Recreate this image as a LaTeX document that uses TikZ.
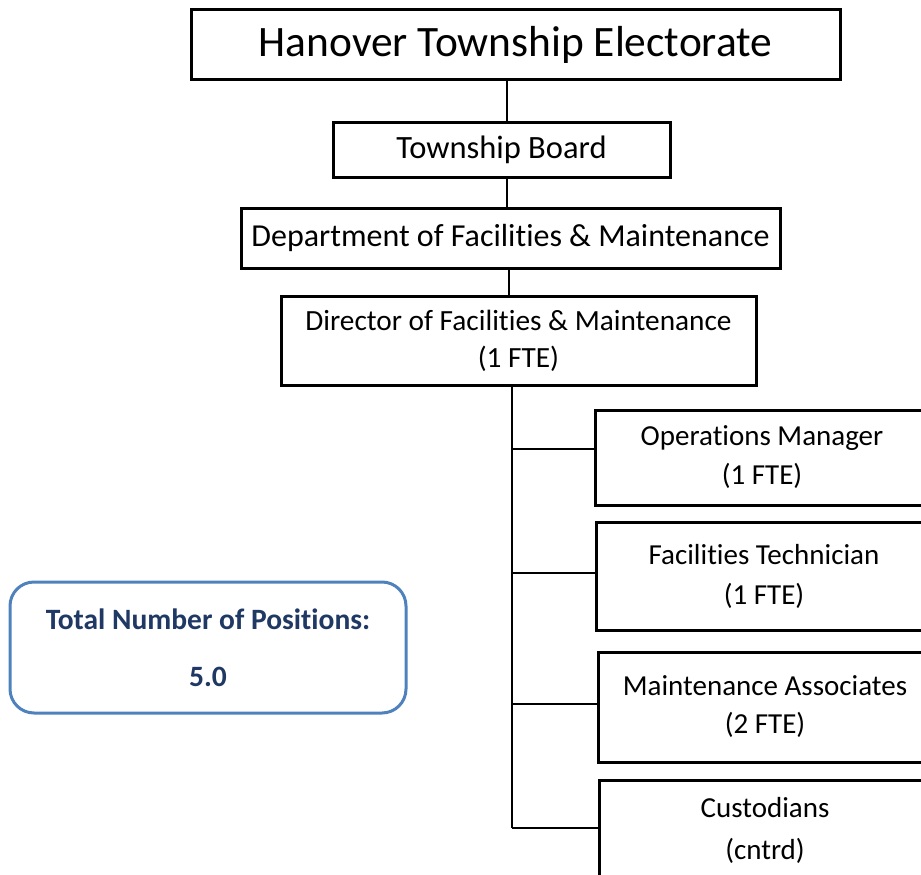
\documentclass[tikz,border=0pt]{standalone}
\usepackage{fontspec}
\setmainfont{Carlito}[Ligatures=NoCommon]
\definecolor{boxblue}{HTML}{4F81BD}
\definecolor{navy}{HTML}{1F3864}
\begin{document}
\begin{tikzpicture}[x=1pt,y=-1pt,
  orgbox/.style={draw=black, line width=3pt, rectangle, inner sep=0pt, align=center},
  conn/.style={draw=black, line width=1.3pt},
  totalbox/.style={draw=boxblue, line width=3pt, rounded corners=24pt, inner sep=0pt, align=center, text=navy, font=\fontsize{29.5}{57}\selectfont\bfseries}]
\useasboundingbox (0,0) rectangle (921,875);
\node[orgbox, minimum width=649pt, minimum height=70pt, font=\fontsize{43.4}{50}\selectfont] (elect) at (515.5,45) {Hanover Township Electorate};
\node[orgbox, minimum width=337pt, minimum height=55pt, font=\fontsize{32.5}{38}\selectfont] (board) at (501.5,149.5) {Township Board};
\node[orgbox, minimum width=539pt, minimum height=60pt, font=\fontsize{32}{38}\selectfont] (dept) at (510.5,238) {Department of Facilities \& Maintenance};
\node[orgbox, minimum width=475pt, minimum height=89pt, font=\fontsize{29.3}{37}\selectfont] (dir) at (518.5,340.5) {Director of Facilities \& Maintenance\\(1 FTE)};
\node[orgbox, minimum width=334pt, minimum height=95pt, font=\fontsize{29}{39}\selectfont] (ops) at (762,457.5) {Operations Manager\\(1 FTE)};
\node[orgbox, minimum width=336pt, minimum height=108pt, font=\fontsize{29}{40}\selectfont] (tech) at (764,576) {Facilities Technician\\(1 FTE)};
\node[orgbox, minimum width=334pt, minimum height=110pt, font=\fontsize{29}{38}\selectfont] (maint) at (765,707) {Maintenance Associates\\(2 FTE)};
\node[orgbox, minimum width=332pt, minimum height=100pt, font=\fontsize{29}{42}\selectfont] (cust) at (765,830) {Custodians\\(cntrd)};
\node[totalbox, minimum width=396pt, minimum height=131pt] (total) at (208,647.5) {Total Number of Positions:\\5.0};
% connectors
\draw[conn] (elect.south -| 507,0) -- (board.north -| 507,0);
\draw[conn] (board.south -| 507,0) -- (dept.north -| 507,0);
\draw[conn] (dept.south -| 509,0) -- (dir.north -| 509,0);
\coordinate (t1) at (512,449);
\coordinate (t2) at (512,573);
\coordinate (t3) at (512,704);
\coordinate (t4) at (512,828);
\draw[conn] (dir.south -| 512,0) -- (t4);
\draw[conn] (t1) -- (t1 -| ops.west);
\draw[conn] (t2) -- (t2 -| tech.west);
\draw[conn] (t3) -- (t3 -| maint.west);
\draw[conn] (t4) -- (t4 -| cust.west);
\end{tikzpicture}
\end{document}
